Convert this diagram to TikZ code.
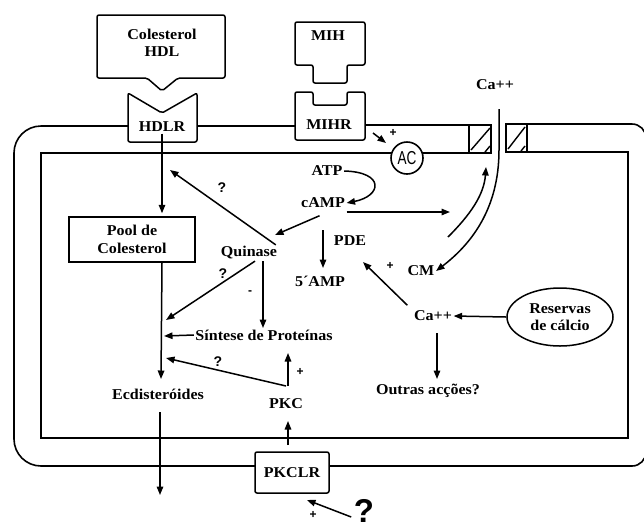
\documentclass[tikz,border=0pt]{standalone}
\usepackage{fontspec}
\setmainfont{Liberation Serif}[FakeStretch=1.07]
\newfontfamily\sansfam{Liberation Sans}
\usetikzlibrary{arrows.meta,shapes.geometric}

\begin{document}
\begin{tikzpicture}[x=1pt,y=-1pt,line width=1.4pt,
  lbl/.style={font=\bfseries\fontsize{15}{17.5}\selectfont,align=center,inner sep=1pt},
  arr/.style={-{Triangle[length=8.5pt,width=6.5pt]},line width=1.5pt},
  qmark/.style={font=\sansfam\bfseries\fontsize{14}{14}\selectfont,inner sep=0pt},
  sgn/.style={font=\sansfam\bfseries\fontsize{12}{12}\selectfont,inner sep=0pt},
  boxline/.style={line width=1.5pt,rounded corners=2pt}]
\useasboundingbox (0,0) rectangle (644,531);
\fill[white] (0,0) rectangle (644,531);

% ---- cell membrane: outer and inner outlines ----
\draw[line width=1.6pt,rounded corners=27pt] (128,126) -- (14,126) -- (14,466) -- (255,466);
\draw[line width=1.6pt,rounded corners=14pt] (329,466) -- (646,466) -- (646,124) -- (527,124);
\draw[line width=1.6pt] (197,126) -- (295,126);
\draw[line width=1.6pt] (365,125) -- (469,125);
\draw[line width=1.6pt] (469,153) -- (41,153) -- (41,438) -- (628,438) -- (628,152) -- (527,152);

% ---- calcium channel ----
\draw[line width=1.6pt] (469,125) rectangle (491,153);
\draw (471,150) -- (490,128);
\draw (485,152) -- (490,146);
\draw[line width=1.6pt] (506,124) rectangle (527,152);
\draw (508,149) -- (525,127);
\draw (521,151) -- (525,146);

% ---- receptors and ligands ----
\draw[boxline] (97,15) -- (225,15) -- (225,78) -- (178,78) -- (162,91) -- (147,78) -- (97,78) -- cycle;
\node[lbl] (hdl) at (162,43) {Colesterol\\HDL};
\draw[boxline] (128,93) -- (162,113) -- (197,93) -- (197,142) -- (128,142) -- cycle;
\node[lbl] (hdlr) at (162,127) {HDLR};

\draw[boxline] (295,22) -- (365,22) -- (365,65) -- (347,65) -- (347,83) -- (313,83) -- (313,65) -- (295,65) -- cycle;
\node[lbl] (mih) at (328,36) {MIH};
\draw[boxline] (295,92) -- (313,92) -- (313,105) -- (347,105) -- (347,92) -- (365,92) -- (365,140) -- (295,140) -- cycle;
\node[lbl] (mihr) at (329,125) {MIHR};

\node[draw,circle,line width=1.6pt,fill=white,minimum size=32pt,inner sep=0pt,
  font=\sansfam\fontsize{17}{17}\selectfont] (ac) at (407,158) {\scalebox{0.8}[1.1]{AC}};

\node[lbl] (catop) at (495,85) {Ca++};

% ---- cytoplasm labels ----
\node[lbl] (atp) at (327,171) {ATP};
\node[lbl] (camp) at (323,203) {cAMP};
\node[lbl] (quinase) at (249,253) {Quinase};
\node[lbl] (pde) at (350,241) {PDE};
\node[lbl] (amp) at (320,281) {5´AMP};
\node[lbl] (cm) at (421,271) {CM};
\node[lbl] (ca) at (433,316) {Ca++};
\node[lbl] (outras) at (428,391) {Outras acções?};
\node[lbl] (sintese) at (264,335) {Síntese de Proteínas};
\node[lbl] (ecd) at (158,394) {Ecdisteróides};
\node[lbl] (pkc) at (286,404) {PKC};

\node[lbl,draw,line width=1.5pt,minimum width=126pt,minimum height=45pt] (pool) at (132,239.5) {Pool de\\Colesterol};
\node[lbl,draw,ellipse,line width=1.5pt,minimum width=106pt,minimum height=58pt,inner sep=0pt] (res) at (560,317) {Reservas\\de cálcio};
\node[lbl,draw,line width=1.5pt,rounded corners=2pt,minimum width=74pt,minimum height=41pt] (pkclr) at (292,472.5) {PKCLR};

\node[font=\sansfam\bfseries\fontsize{33}{33}\selectfont,inner sep=0pt] (bigq) at (364,511) {?};

% ---- free connector ends ----
\coordinate (qtip) at (170,170);
\coordinate (j1) at (166,320);
\coordinate (j2) at (164,336);
\coordinate (j3) at (166,358);
\coordinate (pkup) at (288,353);
\coordinate (pkin) at (288,421);
\coordinate (ecdtip) at (161,379);
\coordinate (ecdout) at (160,495);
\coordinate (campout) at (450,212);
\coordinate (pdetip) at (363,262);
\coordinate (outtip) at (437,379);
\coordinate (chan) at (499,109);
\coordinate (chanin) at (486,167);

% ---- connectors ----
\draw[arr] (hdlr.south) -- ([yshift=3pt]hdlr.south |- pool.north);
\draw[arr] (hdlr.south |- pool.south) -- (ecdtip);
\draw[arr] (quinase.north east) ++(-3,0) -- (qtip);
\draw[arr] ([xshift=6pt]quinase.south) -- (j1);
\draw[arr] ([xshift=14pt]quinase.south) -- ([xshift=-1pt]sintese.north);
\draw[arr] (sintese.west) -- (j2);
\draw[arr] (286,386) -- (j3);
\draw[arr] (288,386) -- (pkup);
\draw[arr] (288,445) -- (pkin);
\draw[arr] (160,412) -- (ecdout);
\draw[arr] (bigq.west) ++(-2,6) -- (307,500);
\draw[arr] (camp.south east) ++(-27,6) -- (275,235);
\draw[arr] (atp.east) .. controls (385,172) and (382,196) .. (camp.east);
\draw[arr] (camp.east) ++(0,9) -- (campout);
\draw[arr] (323,230) -- (323,268);
\draw[arr] (ca.north west) ++(-5,-4) -- (pdetip);
\draw[arr] (res.west) -- (ca.east);
\draw[arr] (437,333) -- (outtip);
\draw[arr] (373,133) -- (386,143);
\draw[arr] (chan) -- (499,150) .. controls (499,210) and (470,245) .. (cm.east);
\draw[arr] (448,237) .. controls (470,215) and (484,195) .. (chanin);

% ---- signs ----
\node[qmark] (q1) at (222,188) {?};
\node[qmark] (q2) at (223,274) {?};
\node[sgn] (m1) at (250,293) {-};
\node[qmark] (q3) at (218,362) {?};
\node[sgn] (p1) at (300,372) {+};
\node[sgn] (p2) at (390,266) {+};
\node[sgn] (p3) at (393,133) {+};
\node[sgn] (p4) at (313,515) {+};
\end{tikzpicture}
\end{document}
